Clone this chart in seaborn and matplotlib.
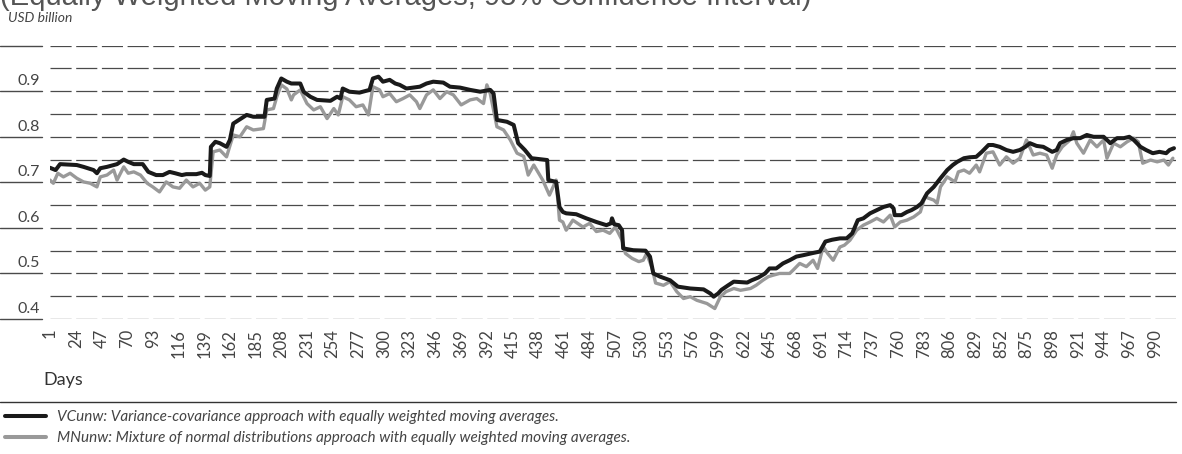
import numpy as np
import pandas as pd
import matplotlib
matplotlib.use("Agg")
import matplotlib.pyplot as plt
import matplotlib.transforms as mtransforms
from matplotlib.lines import Line2D
import seaborn as sns

# ---------------- data ----------------
vc_days = [1, 6, 10, 25, 31, 40, 43, 46, 52, 61, 67, 71, 76, 84, 89, 96, 102, 108, 113, 119,
           123, 132, 137, 140, 144, 145, 149, 153, 159, 162, 165, 170, 177, 183, 193, 195, 202,
           204, 208, 213, 217, 225, 228, 234, 240, 252, 258, 261, 263, 269, 278, 287, 290, 295,
           299, 305, 310, 314, 320, 332, 338, 344, 353, 359, 368, 377, 386, 395, 398, 401, 410,
           416, 420, 426, 432, 446, 447, 454, 457, 460, 463, 472, 481, 490, 499, 503, 504, 506,
           510, 513, 514, 523, 534, 538, 541, 547, 556, 563, 574, 586, 592, 595, 599, 602, 608,
           613, 625, 629, 635, 641, 645, 651, 657, 663, 669, 675, 684, 690, 695, 701, 708, 714,
           719, 724, 729, 735, 741, 747, 753, 756, 757, 763, 768, 772, 777, 781, 786, 792, 798,
           804, 809, 813, 819, 824, 830, 835, 841, 845, 851, 857, 863, 869, 874, 878, 884, 890,
           898, 902, 905, 911, 917, 923, 929, 935, 944, 950, 956, 962, 967, 971, 977, 982, 988,
           994, 1000, 1003, 1007]
vc_values = [0.732, 0.727, 0.740, 0.738, 0.734, 0.727, 0.720, 0.731, 0.734, 0.740, 0.750, 0.745,
             0.740, 0.740, 0.723, 0.716, 0.716, 0.723, 0.720, 0.716, 0.718, 0.718, 0.721, 0.716,
             0.714, 0.778, 0.789, 0.786, 0.778, 0.793, 0.829, 0.837, 0.848, 0.844, 0.844, 0.881,
             0.884, 0.906, 0.928, 0.921, 0.917, 0.917, 0.899, 0.888, 0.881, 0.879, 0.888, 0.884,
             0.906, 0.899, 0.897, 0.903, 0.928, 0.932, 0.921, 0.925, 0.917, 0.914, 0.906, 0.910,
             0.917, 0.921, 0.919, 0.910, 0.908, 0.903, 0.899, 0.903, 0.895, 0.837, 0.833, 0.826,
             0.786, 0.771, 0.753, 0.749, 0.705, 0.701, 0.646, 0.635, 0.632, 0.630, 0.621, 0.613,
             0.606, 0.610, 0.621, 0.608, 0.606, 0.595, 0.555, 0.551, 0.550, 0.537, 0.500, 0.493,
             0.485, 0.471, 0.467, 0.465, 0.456, 0.449, 0.456, 0.464, 0.474, 0.482, 0.480, 0.485,
             0.491, 0.500, 0.511, 0.511, 0.522, 0.529, 0.537, 0.540, 0.545, 0.548, 0.570, 0.574,
             0.577, 0.577, 0.588, 0.617, 0.621, 0.632, 0.639, 0.646, 0.650, 0.643, 0.628, 0.628,
             0.635, 0.639, 0.646, 0.654, 0.676, 0.690, 0.709, 0.727, 0.738, 0.745, 0.753, 0.755,
             0.756, 0.767, 0.782, 0.782, 0.778, 0.771, 0.767, 0.771, 0.778, 0.786, 0.780, 0.778,
             0.767, 0.771, 0.786, 0.793, 0.797, 0.797, 0.804, 0.800, 0.800, 0.786, 0.797, 0.797,
             0.800, 0.793, 0.778, 0.771, 0.764, 0.767, 0.764, 0.771, 0.775]

mn_days = [1, 4, 8, 13, 19, 25, 31, 37, 43, 46, 52, 58, 61, 67, 71, 76, 82, 88, 93, 99, 105,
           111, 117, 123, 129, 135, 140, 144, 147, 153, 159, 165, 171, 177, 183, 192, 195, 201,
           204, 208, 213, 217, 219, 225, 231, 237, 243, 249, 255, 259, 263, 269, 275, 281, 286,
           290, 296, 299, 305, 311, 317, 323, 329, 332, 338, 344, 350, 356, 362, 369, 377, 383,
           389, 392, 395, 398, 401, 407, 413, 419, 425, 429, 434, 442, 448, 454, 457, 460, 463,
           469, 478, 484, 490, 496, 502, 507, 513, 516, 522, 528, 532, 535, 540, 543, 550, 556,
           562, 568, 574, 580, 589, 596, 601, 606, 613, 619, 628, 633, 639, 644, 648, 654, 663,
           666, 672, 678, 684, 688, 693, 697, 702, 708, 712, 717, 723, 729, 735, 741, 747, 753,
           757, 762, 768, 774, 780, 784, 792, 795, 798, 804, 811, 814, 819, 824, 830, 833, 839,
           845, 851, 857, 863, 869, 875, 881, 887, 893, 898, 902, 907, 914, 917, 920, 926, 932,
           938, 944, 947, 953, 959, 965, 971, 975, 979, 986, 992, 998, 1002, 1006]
mn_values = [0.705, 0.698, 0.720, 0.712, 0.720, 0.709, 0.701, 0.698, 0.690, 0.712, 0.716, 0.727,
             0.705, 0.734, 0.720, 0.723, 0.716, 0.698, 0.690, 0.679, 0.701, 0.690, 0.687, 0.705,
             0.690, 0.698, 0.683, 0.690, 0.767, 0.771, 0.756, 0.804, 0.800, 0.822, 0.815, 0.818,
             0.859, 0.862, 0.888, 0.914, 0.905, 0.881, 0.892, 0.903, 0.873, 0.859, 0.866, 0.840,
             0.862, 0.848, 0.888, 0.881, 0.866, 0.870, 0.848, 0.910, 0.903, 0.888, 0.895, 0.877,
             0.884, 0.892, 0.877, 0.862, 0.892, 0.903, 0.884, 0.899, 0.892, 0.870, 0.881, 0.884,
             0.873, 0.914, 0.895, 0.859, 0.822, 0.815, 0.793, 0.764, 0.757, 0.716, 0.738, 0.705,
             0.672, 0.705, 0.617, 0.613, 0.595, 0.617, 0.602, 0.610, 0.592, 0.595, 0.588, 0.602,
             0.573, 0.544, 0.533, 0.526, 0.529, 0.544, 0.511, 0.479, 0.474, 0.482, 0.460, 0.445,
             0.449, 0.441, 0.434, 0.423, 0.449, 0.460, 0.467, 0.463, 0.467, 0.474, 0.485, 0.493,
             0.496, 0.500, 0.500, 0.507, 0.522, 0.515, 0.529, 0.511, 0.559, 0.544, 0.529, 0.558,
             0.562, 0.573, 0.595, 0.606, 0.613, 0.621, 0.613, 0.628, 0.602, 0.613, 0.617, 0.624,
             0.635, 0.668, 0.661, 0.654, 0.690, 0.712, 0.701, 0.723, 0.727, 0.720, 0.738, 0.723,
             0.764, 0.767, 0.738, 0.756, 0.742, 0.753, 0.793, 0.760, 0.764, 0.760, 0.731, 0.760,
             0.778, 0.793, 0.811, 0.786, 0.764, 0.793, 0.778, 0.793, 0.753, 0.786, 0.778, 0.789,
             0.797, 0.789, 0.742, 0.749, 0.745, 0.749, 0.738, 0.753]

y_ticks = [0.4, 0.5, 0.6, 0.7, 0.8, 0.9]
x_ticks = list(range(1, 991, 23))

title = "(Equally Weighted Moving Averages, 95% Confidence Interval)"
unit_label = "USD billion"
x_label = "Days"
vc_label = "VCunw: Variance-covariance approach with equally weighted moving averages."
mn_label = "MNunw: Mixture of normal distributions approach with equally weighted moving averages."

# ---------------- style ----------------
sns.set_theme(style="white")
plt.rcParams["font.family"] = ["Lato", "DejaVu Sans"]
plt.rcParams["lines.scale_dashes"] = False

W, H = 1182, 454
fig = plt.figure(figsize=(W / 100, H / 100), dpi=100)
ax = fig.add_axes([50 / W, (H - 319) / H, (1176 - 50) / W, (319 - 45.7) / H])

df_vc = pd.DataFrame({"day": vc_days, "value": vc_values})
df_mn = pd.DataFrame({"day": mn_days, "value": mn_values})

# dashed grid every 0.05
for v in np.arange(0.40, 1.0001, 0.05):
    ax.axhline(v, color="#4a4a4a", lw=0.9, dashes=(15.2, 3.3), zorder=0)

sns.lineplot(data=df_mn, x="day", y="value", ax=ax, color="#999999", lw=2.4,
             estimator=None, sort=False, zorder=2, label=mn_label)
sns.lineplot(data=df_vc, x="day", y="value", ax=ax, color="#1a1a1a", lw=2.9,
             estimator=None, sort=False, zorder=3, label=vc_label)

ax.set_xlim(1, 1008.8)
ax.set_ylim(0.4, 1.0)
for s in ax.spines.values():
    s.set_visible(False)
ax.set_xlabel("")
ax.set_ylabel("")

ax.set_xticks(x_ticks)
ax.set_xticklabels([str(t) for t in x_ticks], rotation=90, fontsize=12, color="#444444",
                   va="top", ha="center")
ax.tick_params(axis="x", length=0, pad=7)

ax.set_yticks(y_ticks)
ax.set_yticklabels([f"{t:.1f}" for t in y_ticks], fontsize=11.5, color="#444444")
ax.tick_params(axis="y", length=0, pad=7)
offset = mtransforms.ScaledTranslation(0, 6 / 100, fig.dpi_scale_trans)
for lab in ax.get_yticklabels():
    lab.set_verticalalignment("baseline")
    lab.set_transform(lab.get_transform() + offset)

# short solid segments at the left of major gridlines
blend = mtransforms.blended_transform_factory(fig.transFigure, ax.transData)
for v in np.arange(0.4, 1.0001, 0.1):
    fig.add_artist(Line2D([0, 42 / W], [v, v], transform=blend, color="#4a4a4a", lw=1.0))

# texts
fig.text(0.0, 1 - 5 / H, title, fontsize=21, color="#555555", va="baseline", ha="left",
         family=["Liberation Sans", "DejaVu Sans"])
fig.text(8 / W, 1 - 22 / H, unit_label, fontsize=10, style="italic", color="#444444",
         va="baseline", ha="left")
fig.text(43 / W, 1 - 385 / H, x_label, fontsize=13, color="#333333", va="baseline", ha="left")

# separator line
fig.add_artist(Line2D([0, 1176 / W], [1 - 401.5 / H, 1 - 401.5 / H], color="#333333", lw=1.0))

# legend
ax.get_legend().remove()
h_vc = Line2D([], [], color="#1a1a1a", lw=2.9)
h_mn = Line2D([], [], color="#999999", lw=2.9)
fig.legend([h_vc, h_mn], [vc_label, mn_label], loc="upper left",
           bbox_to_anchor=(5 / W, 1 - 410 / H), frameon=False,
           prop={"style": "italic", "size": 11}, labelcolor="#444444",
           handlelength=2.7, handletextpad=0.7, labelspacing=0.45, borderaxespad=0,
           borderpad=0)

fig.savefig("out.png", dpi=100)
